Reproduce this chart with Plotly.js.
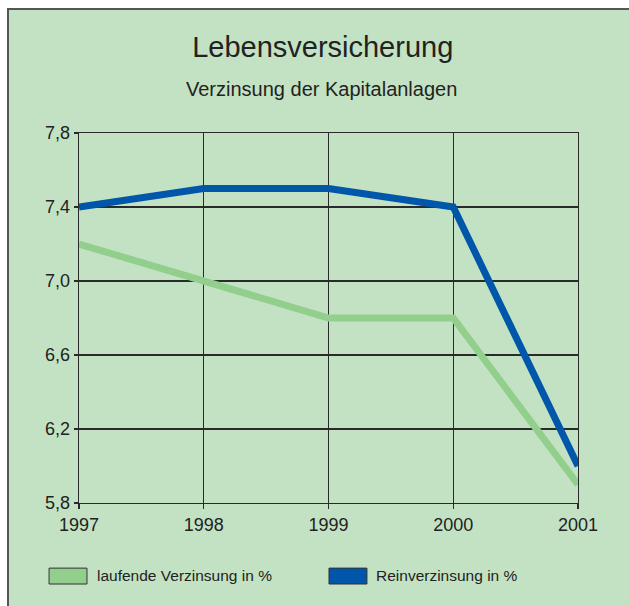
<!DOCTYPE html>
<html lang="de">
<head>
  <meta charset="UTF-8">
  <title>Lebensversicherung</title>
  <script src="https://cdn.plot.ly/plotly-3.0.1.min.js"></script>
  <style>
    body {
      margin: 0;
      background: #ffffff;
      font-family: 'Liberation Sans', Arial, sans-serif;
    }

    #frame {
      position: absolute;
      left: 7px;
      top: 8px;
      width: 620px;
      height: 596px;
      border-top: 2px solid #555;
      border-left: 2px solid #555;
      background: #c3e2c3;
    }

    #chart {
      width: 620px;
      height: 596px;
    }
  </style>
</head>
<body>
  <div id="frame">
    <div id="chart"></div>
  </div>

  <script>
    // data
    const years = [1997, 1998, 1999, 2000, 2001];
    const laufende = [7.2, 7.0, 6.8, 6.8, 5.9];
    const rein = [7.4, 7.5, 7.5, 7.4, 6.0];
    const seriesNames = ["laufende Verzinsung in %", "Reinverzinsung in %"];
    const seriesColors = ["#92cf8c", "#0057a9"];
    const yTicks = [5.8, 6.2, 6.6, 7.0, 7.4, 7.8];

    const traces = [
      {
        x: years, y: laufende, mode: "lines", name: seriesNames[0],
        line: { color: seriesColors[0], width: 7 }, hoverinfo: "skip"
      },
      {
        x: years, y: rein, mode: "lines", name: seriesNames[1],
        line: { color: seriesColors[1], width: 7 }, hoverinfo: "skip"
      }
    ];

    // legend drawn by hand so the keys are wide boxes like the original
    const legendBoxes = [[-0.060, 0.016], [0.501, 0.577]];
    const legendText = [0.032, 0.591];
    const shapes = legendBoxes.map((b, i) => ({
      type: "rect", xref: "paper", yref: "paper",
      x0: b[0], x1: b[1], y0: -0.176, y1: -0.219,
      fillcolor: seriesColors[i], line: { color: "#333", width: 1 }
    }));

    const annotations = [
      {
        text: "Verzinsung der Kapitalanlagen", xref: "paper", yref: "paper",
        x: 0.486, y: 1.119, xanchor: "center", yanchor: "middle", showarrow: false,
        font: { size: 20, color: "#222" }
      }
    ].concat(seriesNames.map((n, i) => ({
      text: n, xref: "paper", yref: "paper", x: legendText[i], y: -0.197,
      xanchor: "left", yanchor: "middle", showarrow: false,
      font: { size: 15.5, color: "#222" }
    })));

    const layout = {
      width: 620,
      height: 596,
      margin: { l: 70, r: 51, t: 123, b: 103 },
      paper_bgcolor: "#c3e2c3",
      plot_bgcolor: "#c3e2c3",
      separators: ",.",
      showlegend: false,
      font: { family: "'Liberation Sans', Arial, sans-serif", color: "#222" },
      title: {
        text: "Lebensversicherung",
        x: 0.506, xanchor: "center",
        y: 0.938, yanchor: "middle", yref: "container",
        font: { size: 29, color: "#222" }
      },
      xaxis: {
        range: [1997, 2001],
        tickvals: years,
        ticktext: years.map(String),
        showgrid: true, gridcolor: "#2a2a2a", gridwidth: 1.3,
        showline: true, linecolor: "#2a2a2a", linewidth: 1.3, mirror: true,
        ticks: "outside", ticklen: 5, tickcolor: "#2a2a2a", tickwidth: 1.3,
        tickfont: { size: 18 },
        zeroline: false, fixedrange: true
      },
      yaxis: {
        range: [5.8, 7.8],
        tickvals: yTicks,
        tickformat: ".1f",
        showgrid: true, gridcolor: "#2a2a2a", gridwidth: 1.3,
        showline: true, linecolor: "#2a2a2a", linewidth: 1.3, mirror: true,
        ticks: "outside", ticklen: 4, tickcolor: "#2a2a2a", tickwidth: 1.3,
        tickfont: { size: 18 },
        zeroline: false, fixedrange: true
      },
      shapes: shapes,
      annotations: annotations
    };

    Plotly.newPlot("chart", traces, layout, { displayModeBar: false, staticPlot: true });
  </script>
</body>
</html>
